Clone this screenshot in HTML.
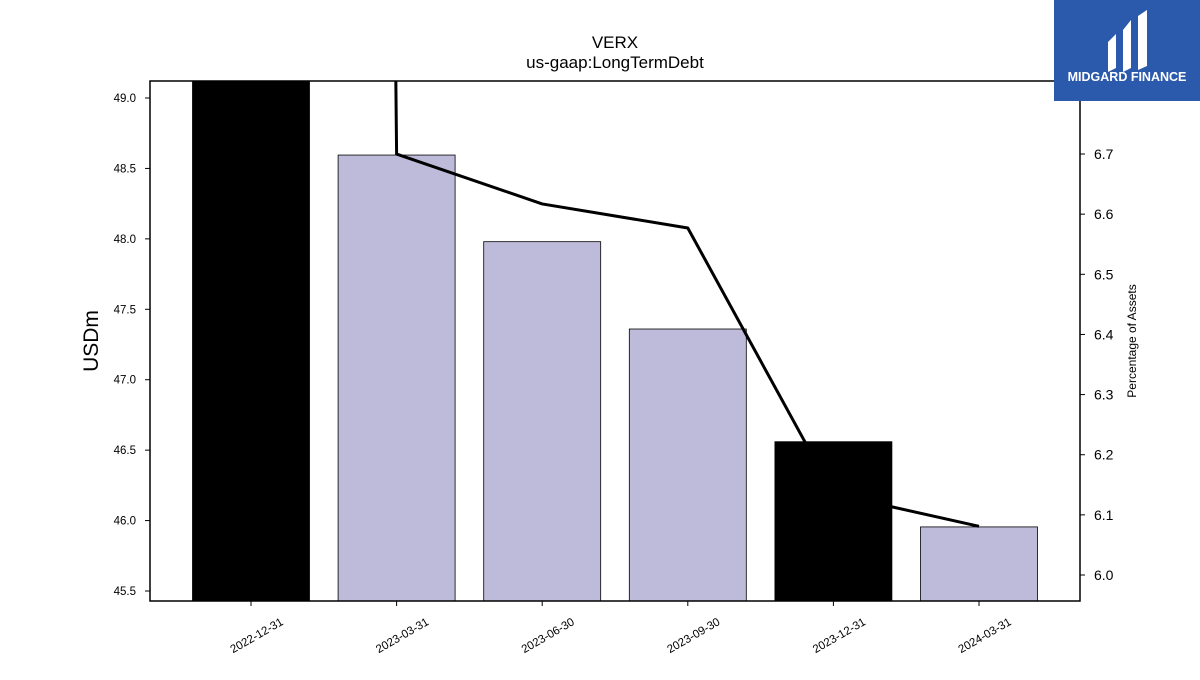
<!DOCTYPE html>
<html><head><meta charset="utf-8"><style>
body{margin:0;background:#fff;font-family:"Liberation Sans",sans-serif}
svg text{font-family:"Liberation Sans",sans-serif}
</style></head><body>
<svg width="1200" height="675" viewBox="0 0 1200 675">
<defs><clipPath id="pc"><rect x="150" y="81" width="930" height="520"/></clipPath></defs>
<text x="615" y="48" text-anchor="middle" font-size="17">VERX</text>
<text x="615" y="68" text-anchor="middle" font-size="17">us-gaap:LongTermDebt</text>
<g id="bars" clip-path="url(#pc)"></g>
<g id="line" clip-path="url(#pc)"></g>
<rect x="150" y="81" width="930" height="520" fill="none" stroke="#000" stroke-width="1.5"/>
<g id="axes"></g>
<text transform="translate(98,341) rotate(-90)" text-anchor="middle" font-size="21">USDm</text>
<text transform="translate(1136,341) rotate(-90)" text-anchor="middle" font-size="12">Percentage of Assets</text>
<g>
<rect x="1054" y="0" width="146" height="101" fill="#2b5aad"/>
<path d="M1108 42 L1116 34 L1116 68 L1108 72 Z M1123 30 L1131 20 L1131 68 L1123 72 Z M1138 16 L1147 10 L1147 66 L1138 70 Z" fill="#fff"/>
<text x="1127" y="81" text-anchor="middle" font-size="12.5" font-weight="bold" fill="#fff">MIDGARD FINANCE</text>
</g>
</svg>
<script>
const categories=["2022-12-31","2023-03-31","2023-06-30","2023-09-30","2023-12-31","2024-03-31"];
const debtValues=[49.4,48.595,47.98,47.36,46.56,45.955];
const pctValues=[30,6.7,6.617,6.577,6.135,6.081];
const highlight=[true,false,false,false,true,false];
const leftTicks=[45.5,46.0,46.5,47.0,47.5,48.0,48.5,49.0];
const rightTicks=[6.0,6.1,6.2,6.3,6.4,6.5,6.6,6.7];
const NS="http://www.w3.org/2000/svg";
const yL=v=>98+(49.0-v)*140.86;
const yR=v=>575-(v-6.0)*601.4;
const xC=i=>251+i*145.6;
function mk(tag,attrs,parent){const e=document.createElementNS(NS,tag);for(const k in attrs)e.setAttribute(k,attrs[k]);parent.appendChild(e);return e;}
const bars=document.getElementById('bars'),line=document.getElementById('line'),axes=document.getElementById('axes');
debtValues.forEach((v,i)=>{
 const y=yL(v);
 const r=mk('rect',{x:xC(i)-58.5,y:y,width:117,height:601-y,fill:highlight[i]?'#000':'#bebad9',stroke:'#000','stroke-width':0.8},bars);
 
 
});
const pl=mk('polyline',{points:pctValues.map((v,i)=>xC(i)+','+yR(v)).join(' '),fill:'none',stroke:'#000','stroke-width':3,'stroke-linejoin':'round'},line);


leftTicks.forEach(t=>{
 const y=yL(t);
 mk('line',{x1:145,x2:150,y1:y,y2:y,stroke:'#000'},axes);
 const tx=mk('text',{x:136,y:y+4,'text-anchor':'end','font-size':11.5},axes);tx.textContent=t.toFixed(1);
 
 
});
rightTicks.forEach(t=>{
 const y=yR(t);
 mk('line',{x1:1080,x2:1085,y1:y,y2:y,stroke:'#000'},axes);
 const tx=mk('text',{x:1094,y:y+5,'font-size':14},axes);tx.textContent=t.toFixed(1);
 
 
});
categories.forEach((c,i)=>{
 const x=xC(i);
 mk('line',{x1:x,x2:x,y1:601,y2:606,stroke:'#000'},axes);
 const tx=mk('text',{transform:`translate(${x+33},${624}) rotate(-30)`,'text-anchor':'end','font-size':11.5},axes);tx.textContent=c;
 
 
});
</script>
</body></html>
